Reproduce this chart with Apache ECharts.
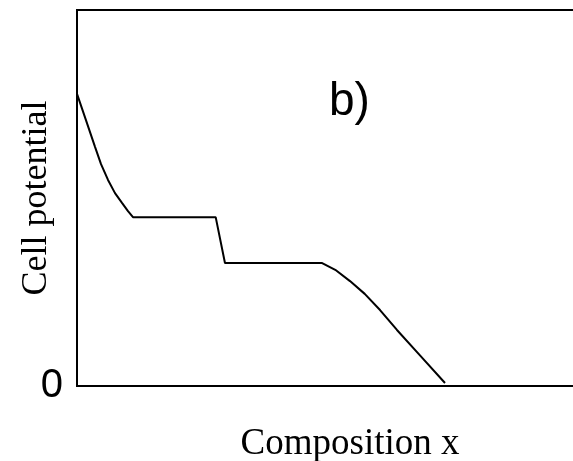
<!DOCTYPE html>
<html>
<head>
<meta charset="utf-8">
<script src="https://cdn.jsdelivr.net/npm/echarts@6/dist/echarts.min.js"></script>
<style>
  html, body { margin: 0; padding: 0; background: #fff; }
  #chart { width: 573px; height: 461px; }
</style>
</head>
<body>
<div id="chart"></div>
<script>
// Composition (arbitrary units) and cell potential (arbitrary units)
const composition = [0, 1.64, 3.30, 4.40, 5.68, 6.96, 8.24, 9.34, 10.25, 25.4, 27.1, 44.9, 47.3, 50.0, 52.7, 55.5, 58.6, 62.9, 67.4];
const potential   = [77.7, 70.7, 63.6, 59.0, 54.8, 51.3, 48.7, 46.5, 44.9, 44.9, 32.7, 32.7, 30.9, 27.9, 24.5, 20.2, 14.9, 8.0, 0.8];
const yTicks = [0];
const panelLabel = 'b)';

const curve = composition.map((x, i) => [x, potential[i]]);

const chart = echarts.init(document.getElementById('chart'));
chart.setOption({
  animation: false,
  // the plot frame runs past the right edge of the page
  grid: {
    left: 77, top: 10, right: -50, bottom: 75,
    outerBoundsMode: 'none', containLabel: false,
    show: true, borderColor: '#000', borderWidth: 2, backgroundColor: 'transparent'
  },
  xAxis: {
    type: 'value', min: 0, max: 100,
    name: 'Composition x', nameLocation: 'middle', nameGap: 40,
    nameTextStyle: { fontFamily: 'Liberation Serif', fontSize: 37, color: '#000' },
    axisLine: { show: false }, axisTick: { show: false },
    axisLabel: { show: false }, splitLine: { show: false }
  },
  yAxis: {
    type: 'value', min: 0, max: 100, interval: 100,
    name: 'Cell potential', nameLocation: 'middle', nameGap: 22,
    nameMoveOverlap: false,
    nameTextStyle: { fontFamily: 'Liberation Serif', fontSize: 36, color: '#000' },
    axisLine: { show: false }, axisTick: { show: false },
    axisLabel: {
      margin: 14, fontFamily: 'Liberation Sans', fontSize: 40, color: '#000',
      formatter: v => (yTicks.includes(v) ? String(v) : '')
    },
    splitLine: { show: false }
  },
  graphic: [{
    type: 'text', left: 329, top: 79,
    style: { text: panelLabel, fontFamily: 'Liberation Sans', fontSize: 46, fill: '#000' }
  }],
  series: [{
    type: 'line', data: curve, smooth: false, showSymbol: false,
    lineStyle: { color: '#000', width: 2 }
  }]
});
</script>
</body>
</html>
